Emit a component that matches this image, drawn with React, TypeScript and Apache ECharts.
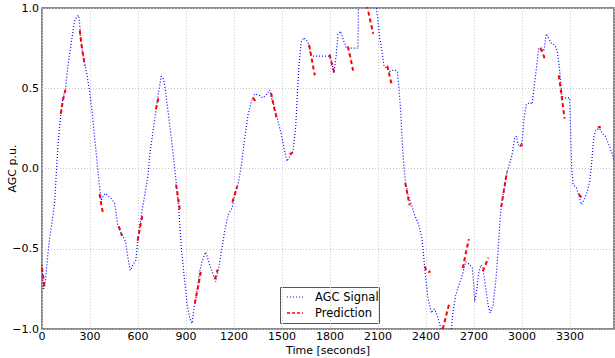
import React, { useEffect, useRef } from "react";
import * as echarts from "echarts";

const signalTimes = [
  0, 5, 10, 18, 27, 38, 48, 62, 79, 90, 100, 117, 131, 140, 146, 163, 184, 204, 220, 229, 236, 240, 256, 277, 298,
  315, 329, 344, 356, 367, 370, 383, 396, 414, 430, 454, 474, 494, 522, 536, 551, 560, 568, 587, 600, 621, 642, 663,
  673, 694, 711, 729, 746, 757, 767, 788, 808, 825, 840, 854, 871, 892, 908, 923, 938, 950, 965, 986, 1006, 1023,
  1048, 1069, 1086, 1104, 1125, 1142, 1163, 1188, 1204, 1225, 1246, 1267, 1288, 1309, 1329, 1345, 1361, 1378, 1392,
  1410, 1423, 1434, 1454, 1475, 1496, 1513, 1531, 1548, 1569, 1586, 1596, 1606, 1621, 1636, 1650, 1663, 1679, 1694,
  1750, 1798, 1810, 1825, 1838, 1850, 1865, 1881, 1902, 1940, 1975, 1978, 2085, 2090, 2100, 2111, 2125, 2138, 2152,
  2173, 2204, 2221, 2229, 2242, 2250, 2261, 2271, 2288, 2309, 2329, 2354, 2375, 2392, 2403, 2413, 2434, 2444, 2454,
  2475, 2490, 2510, 2550, 2559, 2569, 2586, 2606, 2627, 2648, 2662, 2673, 2690, 2698, 2704, 2719, 2731, 2746, 2756,
  2773, 2788, 2802, 2819, 2836, 2850, 2861, 2871, 2886, 2902, 2919, 2938, 2954, 2965, 2975, 2986, 3000, 3013, 3027,
  3048, 3063, 3075, 3090, 3104, 3121, 3136, 3152, 3167, 3184, 3204, 3221, 3236, 3250, 3267, 3298, 3304, 3310, 3319,
  3340, 3354, 3371, 3392, 3409, 3423, 3434, 3448, 3461, 3486, 3500, 3521, 3542, 3563, 3575,
];

const signalValues = [
  -0.6, -0.68, -0.75, -0.73, -0.64, -0.52, -0.43, -0.34, -0.21, -0.02, 0.15, 0.335, 0.44, 0.47, 0.49, 0.65, 0.79,
  0.92, 0.95, 0.955, 0.9, 0.815, 0.71, 0.605, 0.48, 0.335, 0.19, 0.045, -0.08, -0.175, -0.2, -0.17, -0.155, -0.17,
  -0.185, -0.215, -0.36, -0.4, -0.455, -0.55, -0.635, -0.62, -0.6, -0.57, -0.43, -0.29, -0.165, -0.04, 0.085, 0.23,
  0.355, 0.48, 0.575, 0.56, 0.52, 0.355, 0.19, 0.045, -0.1, -0.245, -0.495, -0.705, -0.85, -0.93, -0.965, -0.87,
  -0.79, -0.64, -0.56, -0.52, -0.6, -0.66, -0.705, -0.62, -0.495, -0.39, -0.29, -0.245, -0.165, -0.1, 0.02, 0.19,
  0.335, 0.42, 0.465, 0.46, 0.455, 0.44, 0.45, 0.47, 0.49, 0.44, 0.38, 0.295, 0.21, 0.125, 0.045, 0.075, 0.105, 0.27,
  0.46, 0.645, 0.79, 0.815, 0.8, 0.79, 0.71, 0.7, 0.7, 0.7, 0.667, 0.595, 0.7, 0.835, 0.855, 0.81, 0.75, 0.75, 0.75,
  1.05, 1.05, 1.0, 0.917, 0.81, 0.73, 0.635, 0.625, 0.605, 0.615, 0.605, 0.52, 0.355, 0.19, 0.025, -0.08, -0.165,
  -0.225, -0.29, -0.35, -0.435, -0.62, -0.725, -0.81, -0.9, -0.88, -0.875, -0.93, -0.985, -1.03, -1.03, -0.995,
  -0.89, -0.79, -0.725, -0.665, -0.58, -0.59, -0.6, -0.62, -0.725, -0.83, -0.745, -0.64, -0.6, -0.62, -0.745, -0.85,
  -0.9, -0.85, -0.705, -0.52, -0.35, -0.225, -0.14, -0.04, 0.02, 0.085, 0.19, 0.2, 0.15, 0.135, 0.16, 0.315, 0.4,
  0.41, 0.4, 0.5, 0.625, 0.75, 0.75, 0.73, 0.84, 0.81, 0.78, 0.77, 0.73, 0.605, 0.45, 0.44, 0.44, 0.23, 0.02, -0.1,
  -0.12, -0.165, -0.225, -0.185, -0.14, -0.08, 0.02, 0.19, 0.24, 0.25, 0.22, 0.2, 0.15, 0.095, 0.055,
];

// Each prediction segment: [time, value] pairs
const predictionSegments: number[][][] = [
  [[0, -0.62], [8, -0.68], [16, -0.75]],
  [[117, 0.34], [130, 0.42], [146, 0.49]],
  [[236, 0.86], [250, 0.75], [267, 0.64]],
  [[360, -0.16], [370, -0.22], [381, -0.28]],
  [[480, -0.36], [500, -0.42]],
  [[598, -0.45], [612, -0.37], [628, -0.29]],
  [[712, 0.37], [728, 0.44]],
  [[838, -0.1], [850, -0.18], [862, -0.26]],
  [[955, -0.84], [975, -0.74], [995, -0.63]],
  [[1080, -0.69], [1098, -0.63]],
  [[1190, -0.21], [1205, -0.16], [1220, -0.11]],
  [[1317, 0.44], [1345, 0.41]],
  [[1432, 0.47], [1448, 0.39], [1465, 0.32]],
  [[1548, 0.09], [1568, 0.1]],
  [[1670, 0.77], [1688, 0.67], [1705, 0.58]],
  [[1798, 0.71], [1812, 0.65], [1826, 0.6]],
  [[1912, 0.76], [1928, 0.69], [1944, 0.61]],
  [[2030, 1.02], [2050, 0.93], [2070, 0.84]],
  [[2158, 0.64], [2172, 0.58], [2186, 0.52]],
  [[2270, -0.09], [2284, -0.16], [2298, -0.23]],
  [[2392, -0.61], [2404, -0.64], [2416, -0.645], [2428, -0.64]],
  [[2505, -1.0], [2525, -0.92], [2548, -0.83]],
  [[2630, -0.62], [2648, -0.53], [2668, -0.44]],
  [[2755, -0.64], [2772, -0.6], [2790, -0.555]],
  [[2870, -0.24], [2888, -0.13], [2906, -0.02]],
  [[2988, 0.145], [3005, 0.145]],
  [[3115, 0.75], [3130, 0.72], [3146, 0.67]],
  [[3230, 0.58], [3248, 0.45], [3266, 0.31]],
  [[3355, -0.16], [3380, -0.19]],
  [[3474, 0.255], [3492, 0.26]],
];

const seriesNames = ["AGC Signal", "Prediction"];
const xTickInterval = 300;
const xMax = 3575;
const yTickInterval = 0.5;

const FONT = "DejaVu Sans";
const BLUE = "#0000ff";
const RED = "#ff0000";

export default function App() {
  const ref = useRef<HTMLDivElement>(null);

  useEffect(() => {
    if (!ref.current) return;
    const chart = echarts.init(ref.current, undefined, { renderer: "svg" });

    const signalData = signalTimes.map((t, i) => [t, signalValues[i]]);
    const predData: any[] = [];
    predictionSegments.forEach((seg, i) => {
      if (i > 0) predData.push([null, null]);
      seg.forEach((p) => predData.push(p));
    });

    const legendX = 280;
    const legendY = 287;

    chart.setOption({
      animation: false,
      backgroundColor: "#ffffff",
      textStyle: { fontFamily: FONT },
      grid: {
        left: 42,
        top: 8,
        right: 1,
        bottom: 29,
        outerBoundsMode: "none",
        containLabel: false,
        show: true,
        borderColor: "#666",
        borderWidth: 1.5,
        backgroundColor: "transparent",
      },
      graphic: [
        {
          type: "group",
          z: 100,
          children: [
            {
              type: "rect",
              shape: { x: legendX + 0.5, y: legendY + 0.5, width: 99, height: 36 },
              style: { fill: "#fff", stroke: "#555", lineWidth: 1 },
            },
            {
              type: "line",
              shape: { x1: legendX + 7, y1: legendY + 10, x2: legendX + 23, y2: legendY + 10 },
              style: { stroke: BLUE, lineWidth: 1.2, lineDash: [1, 2] },
            },
            {
              type: "text",
              x: legendX + 35,
              y: legendY + 10,
              style: {
                text: seriesNames[0],
                fontFamily: FONT,
                fontSize: 11.5,
                fill: "#000",
                verticalAlign: "middle",
              },
            },
            {
              type: "line",
              shape: { x1: legendX + 7, y1: legendY + 26, x2: legendX + 23, y2: legendY + 26 },
              style: { stroke: RED, lineWidth: 1.5, lineDash: [3, 2] },
            },
            {
              type: "text",
              x: legendX + 35,
              y: legendY + 26,
              style: {
                text: seriesNames[1],
                fontFamily: FONT,
                fontSize: 11.5,
                fill: "#000",
                verticalAlign: "middle",
              },
            },
          ],
        },
      ],
      xAxis: {
        type: "value",
        min: 0,
        max: xMax,
        interval: xTickInterval,
        name: "Time [seconds]",
        nameLocation: "middle",
        nameGap: 16,
        nameMoveOverlap: false,
        nameTextStyle: { fontFamily: FONT, fontSize: 11, lineHeight: 11, color: "#000", verticalAlign: "top" },
        axisLine: { show: false },
        axisTick: { show: false },
        axisLabel: {
          fontFamily: FONT,
          fontSize: 11,
          lineHeight: 11,
          color: "#000",
          margin: 2,
          showMaxLabel: false,
          formatter: (v: number) => String(v),
        },
        splitLine: { show: true, lineStyle: { color: "#c8c8c8", type: [1, 2], width: 1 } },
      },
      yAxis: {
        type: "value",
        min: -1,
        max: 1,
        interval: yTickInterval,
        name: "AGC p.u.",
        nameLocation: "middle",
        nameGap: 24,
        nameRotate: 90,
        nameMoveOverlap: false,
        nameTextStyle: { fontFamily: FONT, fontSize: 11, color: "#000", verticalAlign: "bottom" },
        axisLine: { show: false },
        axisTick: { show: false },
        axisLabel: {
          fontFamily: FONT,
          fontSize: 11,
          color: "#000",
          margin: 3,
          formatter: (v: number) => v.toFixed(1).replace("-", "\u2212"),
        },
        splitLine: { show: true, lineStyle: { color: "#c8c8c8", type: [1, 2], width: 1 } },
      },
      series: [
        {
          name: seriesNames[0],
          type: "line",
          data: signalData,
          showSymbol: false,
          symbol: "none",
          clip: true,
          lineStyle: { color: BLUE, width: 1.2, type: [1, 2] },
          itemStyle: { color: BLUE },
          z: 2,
        },
        {
          name: seriesNames[1],
          type: "line",
          data: predData,
          showSymbol: false,
          symbol: "none",
          connectNulls: false,
          clip: true,
          lineStyle: { color: RED, width: 2, type: [4, 3] },
          itemStyle: { color: RED },
          z: 3,
        },
      ],
    });

    return () => chart.dispose();
  }, []);

  return (
    <div
      ref={ref}
      style={{ position: "fixed", left: 0, top: 0, width: 615, height: 358, background: "#fff" }}
    />
  );
}
